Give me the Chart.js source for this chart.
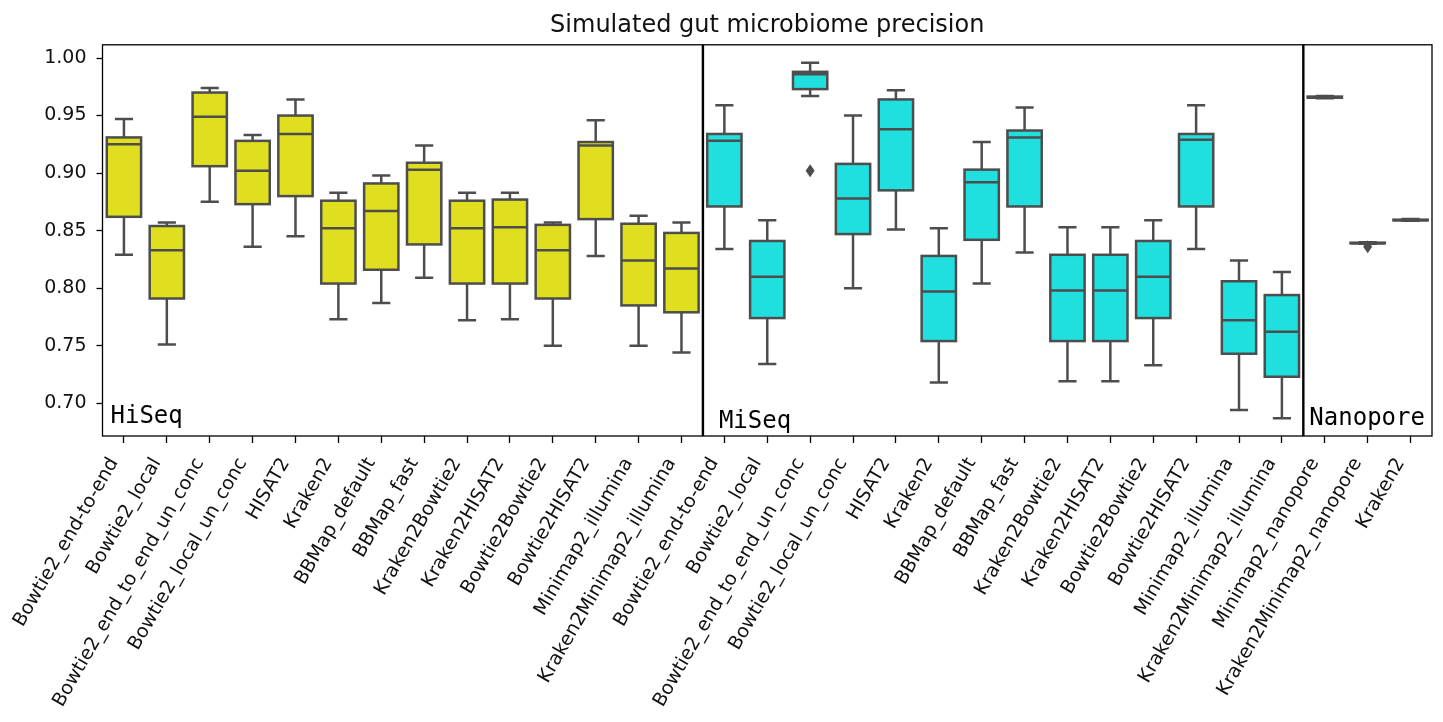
<!DOCTYPE html>
<html>
<head>
<meta charset="utf-8">
<script src="https://cdn.jsdelivr.net/npm/chart.js@4.4.0/dist/chart.umd.min.js"></script>
<style>
  html, body { margin: 0; padding: 0; background: #fff; }
</style>
</head>
<body>
<canvas id="chart" width="1443" height="722"></canvas>
<script>
// panels and their categories
const panelNames = ['HiSeq', 'MiSeq', 'Nanopore'];
const hiseqLabels = ['Bowtie2_end-to-end', 'Bowtie2_local', 'Bowtie2_end_to_end_un_conc', 'Bowtie2_local_un_conc',
  'HISAT2', 'Kraken2', 'BBMap_default', 'BBMap_fast', 'Kraken2Bowtie2', 'Kraken2HISAT2', 'Bowtie2Bowtie2',
  'Bowtie2HISAT2', 'Minimap2_illumina', 'Kraken2Minimap2_illumina'];
const miseqLabels = ['Bowtie2_end-to-end', 'Bowtie2_local', 'Bowtie2_end_to_end_un_conc', 'Bowtie2_local_un_conc',
  'HISAT2', 'Kraken2', 'BBMap_default', 'BBMap_fast', 'Kraken2Bowtie2', 'Kraken2HISAT2', 'Bowtie2Bowtie2',
  'Bowtie2HISAT2', 'Minimap2_illumina', 'Kraken2Minimap2_illumina'];
const nanoporeLabels = ['Minimap2_nanopore', 'Kraken2Minimap2_nanopore', 'Kraken2'];

// box stats, HiSeq (14) then MiSeq (14) then Nanopore (3)
const whiskerLow = [0.829, 0.751, 0.875, 0.836, 0.845, 0.773, 0.787, 0.809, 0.772, 0.773, 0.750, 0.828, 0.750, 0.744,
  0.834, 0.734, 0.967, 0.800, 0.851, 0.718, 0.804, 0.831, 0.719, 0.719, 0.733, 0.834, 0.694, 0.687,
  0.965, 0.8385, 0.8585];
const quartile1 = [0.862, 0.791, 0.906, 0.873, 0.880, 0.804, 0.816, 0.838, 0.804, 0.804, 0.791, 0.860, 0.785, 0.779,
  0.871, 0.774, 0.973, 0.847, 0.885, 0.754, 0.842, 0.871, 0.754, 0.754, 0.774, 0.871, 0.743, 0.723,
  0.9655, 0.839, 0.859];
const medians = [0.925, 0.833, 0.949, 0.902, 0.934, 0.852, 0.867, 0.903, 0.852, 0.853, 0.833, 0.924, 0.824, 0.817,
  0.928, 0.810, 0.986, 0.878, 0.938, 0.797, 0.892, 0.931, 0.798, 0.798, 0.810, 0.929, 0.772, 0.762,
  0.966, 0.839, 0.859];
const quartile3 = [0.931, 0.854, 0.970, 0.928, 0.950, 0.876, 0.891, 0.909, 0.876, 0.877, 0.855, 0.927, 0.856, 0.848,
  0.934, 0.841, 0.988, 0.908, 0.964, 0.828, 0.903, 0.937, 0.829, 0.829, 0.841, 0.934, 0.806, 0.794,
  0.9665, 0.8395, 0.8595];
const whiskerHigh = [0.947, 0.857, 0.974, 0.933, 0.964, 0.883, 0.898, 0.924, 0.883, 0.883, 0.857, 0.946, 0.863, 0.857,
  0.959, 0.859, 0.996, 0.950, 0.972, 0.852, 0.927, 0.957, 0.853, 0.853, 0.859, 0.959, 0.824, 0.814,
  0.967, 0.840, 0.860];
const outlierIndex = [16, 29];
const outlierValues = [0.902, 0.836];

const yTicks = [0.70, 0.75, 0.80, 0.85, 0.90, 0.95, 1.00];

const panelColors = ['#dfdf20', '#20dfdf', '#20dfdf'];
const edgeColor = '#4d4d4d';

const labels = hiseqLabels.concat(miseqLabels, nanoporeLabels);
const panelSizes = [hiseqLabels.length, miseqLabels.length, nanoporeLabels.length];
const fillColors = [];
panelSizes.forEach((n, p) => { for (let i = 0; i < n; i++) fillColors.push(panelColors[p]); });

const boxPlugin = {
  id: 'boxPlugin',
  afterDatasetsDraw(chart) {
    const ctx = chart.ctx;
    const xs = chart.scales.x;
    const ys = chart.scales.y;
    const area = chart.chartArea;
    const meta = chart.getDatasetMeta(0);

    ctx.save();
    ctx.beginPath();
    ctx.rect(area.left, area.top, area.right - area.left, area.bottom - area.top);
    ctx.clip();
    ctx.strokeStyle = edgeColor;
    ctx.lineWidth = 2.5;
    ctx.lineCap = 'butt';
    meta.data.forEach((bar, i) => {
      const cx = bar.x;
      const half = bar.width / 2;
      const yLo = ys.getPixelForValue(whiskerLow[i]);
      const yQ1 = ys.getPixelForValue(quartile1[i]);
      const yMed = ys.getPixelForValue(medians[i]);
      const yQ3 = ys.getPixelForValue(quartile3[i]);
      const yHi = ys.getPixelForValue(whiskerHigh[i]);
      const cap = half / 2 + 0.5;
      ctx.beginPath();
      ctx.moveTo(cx, yQ1); ctx.lineTo(cx, yLo);
      ctx.moveTo(cx - cap, yLo); ctx.lineTo(cx + cap, yLo);
      ctx.moveTo(cx, yQ3); ctx.lineTo(cx, yHi);
      ctx.moveTo(cx - cap, yHi); ctx.lineTo(cx + cap, yHi);
      ctx.stroke();
      ctx.strokeRect(cx - half, yQ3, half * 2, yQ1 - yQ3);
      ctx.beginPath();
      ctx.moveTo(cx - half, yMed); ctx.lineTo(cx + half, yMed);
      ctx.stroke();
    });
    ctx.fillStyle = edgeColor;
    outlierIndex.forEach((idx, k) => {
      const px = xs.getPixelForValue(idx);
      const py = ys.getPixelForValue(outlierValues[k]);
      ctx.beginPath();
      ctx.moveTo(px, py - 6.5);
      ctx.lineTo(px + 4.5, py);
      ctx.lineTo(px, py + 6.5);
      ctx.lineTo(px - 4.5, py);
      ctx.closePath();
      ctx.fill();
    });
    ctx.restore();

    // frame and panel separators
    ctx.save();
    ctx.strokeStyle = '#000';
    ctx.lineWidth = 1.3;
    ctx.strokeRect(area.left, area.top, area.right - area.left, area.bottom - area.top);
    ctx.lineWidth = 2.4;
    let start = 0;
    const panelStarts = [area.left];
    for (let p = 0; p < panelSizes.length - 1; p++) {
      start += panelSizes[p];
      const sx = (xs.getPixelForValue(start - 1) + xs.getPixelForValue(start)) / 2;
      panelStarts.push(sx);
      ctx.beginPath();
      ctx.moveTo(sx, area.top);
      ctx.lineTo(sx, area.bottom);
      ctx.stroke();
    }
    ctx.fillStyle = '#000';
    ctx.font = '24px "DejaVu Sans Mono"';
    ctx.textAlign = 'left';
    ctx.textBaseline = 'alphabetic';
    const labelDx = [8, 16, 6];
    const labelDy = [13, 8, 11];
    panelNames.forEach((name, p) => {
      ctx.fillText(name, panelStarts[p] + labelDx[p], area.bottom - labelDy[p]);
    });
    ctx.restore();
  }
};

new Chart(document.getElementById('chart'), {
  type: 'bar',
  data: {
    labels: labels,
    datasets: [{
      data: quartile1.map((q, i) => [q, quartile3[i]]),
      backgroundColor: fillColors,
      borderWidth: 0,
      barPercentage: 0.8,
      categoryPercentage: 1.0
    }]
  },
  options: {
    responsive: false,
    animation: false,
    devicePixelRatio: 1,
    layout: { padding: { left: 0, right: 11, top: 0, bottom: 0 } },
    plugins: {
      legend: { display: false },
      tooltip: { enabled: false },
      title: {
        display: true,
        fullSize: false,
        text: 'Simulated gut microbiome precision',
        color: '#111',
        font: { family: 'DejaVu Sans', size: 24, weight: 'normal', lineHeight: 1.2 },
        padding: { top: 11, bottom: 5 }
      }
    },
    scales: {
      x: {
        type: 'category',
        border: { display: false },
        grid: { offset: false, drawOnChartArea: false, drawTicks: true, tickLength: 7, color: '#000', tickWidth: 1.3 },
        ticks: {
          autoSkip: false,
          minRotation: 60,
          maxRotation: 60,
          color: '#111',
          padding: 11,
          labelOffset: -10,
          font: { family: 'DejaVu Sans', size: 19, lineHeight: 1.2 }
        },
        afterFit(scale) { scale.height = 286; }
      },
      y: {
        type: 'linear',
        min: 0.6715,
        max: 1.0115,
        border: { display: false },
        grid: { drawOnChartArea: false, drawTicks: true, tickLength: 6, color: '#000', tickWidth: 1.3 },
        afterBuildTicks(scale) { scale.ticks = yTicks.map(v => ({ value: v })); },
        ticks: {
          color: '#111',
          padding: 10,
          font: { family: 'DejaVu Sans', size: 19 },
          callback: (v) => Number(v).toFixed(2)
        },
        afterFit(scale) { scale.width = 102.5; }
      }
    }
  },
  plugins: [boxPlugin]
});
</script>
</body>
</html>
